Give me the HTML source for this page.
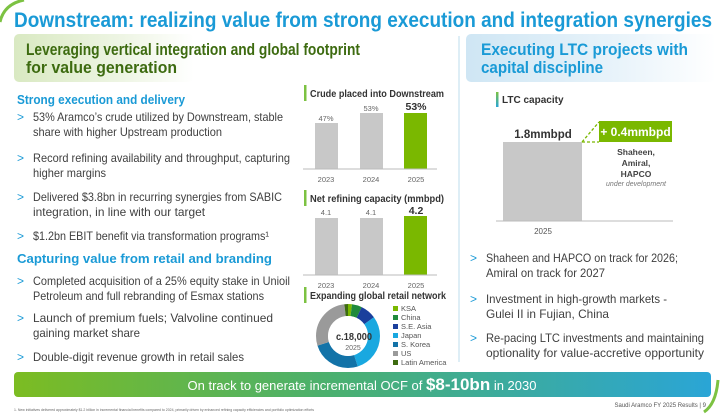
<!DOCTYPE html>
<html><head><meta charset="utf-8"><style>
html,body{margin:0;padding:0;background:#fff;}
svg{display:block;font-family:"Liberation Sans",sans-serif;}
</style></head><body>
<svg width="720" height="416" viewBox="0 0 720 416" xmlns="http://www.w3.org/2000/svg">
<defs>
<linearGradient id="gh" x1="0" x2="1"><stop offset="0" stop-color="#d9e9c2"/><stop offset="0.6" stop-color="#eef5e4"/><stop offset="1" stop-color="#fff"/></linearGradient>
<linearGradient id="bh" x1="0" x2="1"><stop offset="0" stop-color="#cfe6f4"/><stop offset="0.6" stop-color="#e8f3fa"/><stop offset="1" stop-color="#fff"/></linearGradient>
<linearGradient id="ban" x1="0" x2="1"><stop offset="0" stop-color="#7cbc22"/><stop offset="0.45" stop-color="#4bb06e"/><stop offset="1" stop-color="#2aa5d6"/></linearGradient>
<linearGradient id="hb" x1="0" x2="0" y1="0" y2="1"><stop offset="0" stop-color="#7cc242"/><stop offset="1" stop-color="#2aa5d6"/></linearGradient>
</defs>
<path d="M0,22 Q4,4 24,0" fill="none" stroke="#7cc242" stroke-width="3"/>
<path d="M704,412 Q716,404 718,380" fill="none" stroke="#7cc242" stroke-width="3"/>
<text x="14" y="27" font-size="21" font-weight="bold" fill="#1a9ad6" textLength="698" lengthAdjust="spacingAndGlyphs">Downstream: realizing value from strong execution and integration synergies</text>
<rect x="14" y="34" width="180" height="48" rx="5" fill="url(#gh)"/>
<text x="26" y="55" font-size="17" font-weight="bold" fill="#3d6b10" textLength="334" lengthAdjust="spacingAndGlyphs">Leveraging vertical integration and global footprint</text>
<text x="26" y="73" font-size="17" font-weight="bold" fill="#3d6b10" textLength="151" lengthAdjust="spacingAndGlyphs">for value generation</text>
<rect x="466" y="34" width="250" height="48" rx="5" fill="url(#bh)"/>
<text x="481" y="55" font-size="17" font-weight="bold" fill="#1a9ad6" textLength="207" lengthAdjust="spacingAndGlyphs">Executing LTC projects with</text>
<text x="481" y="73" font-size="17" font-weight="bold" fill="#1a9ad6" textLength="122" lengthAdjust="spacingAndGlyphs">capital discipline</text>
<line x1="459" y1="36" x2="459" y2="362" stroke="#bcdcee" stroke-width="1"/>
<g font-size="12" fill="#404040">
<text x="17" y="104" font-size="13" font-weight="bold" fill="#1a9ad6" textLength="168" lengthAdjust="spacingAndGlyphs">Strong execution and delivery</text>
<g fill="#1a9ad6"><text x="17" y="121">&gt;</text><text x="17" y="162">&gt;</text><text x="17" y="201">&gt;</text><text x="17" y="240">&gt;</text><text x="17" y="285">&gt;</text><text x="17" y="322">&gt;</text><text x="17" y="361">&gt;</text></g>
<text x="33" y="121" textLength="250" lengthAdjust="spacingAndGlyphs">53% Aramco’s crude utilized by Downstream, stable</text>
<text x="33" y="136" textLength="189" lengthAdjust="spacingAndGlyphs">share with higher Upstream production</text>
<text x="33" y="162" textLength="257" lengthAdjust="spacingAndGlyphs">Record refining availability and throughput, capturing</text>
<text x="33" y="177" textLength="73" lengthAdjust="spacingAndGlyphs">higher margins</text>
<text x="33" y="201" textLength="249" lengthAdjust="spacingAndGlyphs">Delivered $3.8bn in recurring synergies from SABIC</text>
<text x="33" y="216" textLength="172" lengthAdjust="spacingAndGlyphs">integration, in line with our target</text>
<text x="33" y="240" textLength="236" lengthAdjust="spacingAndGlyphs">$1.2bn EBIT benefit via transformation programs¹</text>
<text x="17" y="263" font-size="13" font-weight="bold" fill="#1a9ad6" textLength="255" lengthAdjust="spacingAndGlyphs">Capturing value from retail and branding</text>
<text x="33" y="285" textLength="257" lengthAdjust="spacingAndGlyphs">Completed acquisition of a 25% equity stake in Unioil</text>
<text x="33" y="300" textLength="231" lengthAdjust="spacingAndGlyphs">Petroleum and full rebranding of Esmax stations</text>
<text x="33" y="322" textLength="240" lengthAdjust="spacingAndGlyphs">Launch of premium fuels; Valvoline continued</text>
<text x="33" y="337" textLength="107" lengthAdjust="spacingAndGlyphs">gaining market share</text>
<text x="33" y="361" textLength="211" lengthAdjust="spacingAndGlyphs">Double-digit revenue growth in retail sales</text>
</g>
<rect x="304" y="85" width="2.5" height="16" fill="#7cc242"/>
<text x="310" y="97" font-size="10" font-weight="bold" fill="#333" textLength="134" lengthAdjust="spacingAndGlyphs">Crude placed into Downstream</text>
<rect x="315" y="123" width="23" height="46" fill="#c8c8c8"/>
<rect x="360" y="113" width="23" height="56" fill="#c8c8c8"/>
<rect x="404" y="113" width="23" height="56" fill="#7ab800"/>
<line x1="303" y1="169" x2="437" y2="169" stroke="#bbb"/>
<g font-size="7.5" fill="#666" text-anchor="middle">
<text x="326" y="121">47%</text><text x="371" y="111">53%</text>
<text x="326" y="182">2023</text><text x="371" y="182">2024</text><text x="416" y="182">2025</text>
<text x="326" y="288">2023</text><text x="371" y="288">2024</text><text x="416" y="288">2025</text>
</g>
<text x="416" y="110" font-size="10.5" font-weight="bold" fill="#333" text-anchor="middle">53%</text>
<rect x="304" y="190" width="2.5" height="16" fill="#7cc242"/>
<text x="310" y="202" font-size="10" font-weight="bold" fill="#333" textLength="134" lengthAdjust="spacingAndGlyphs">Net refining capacity (mmbpd)</text>
<rect x="315" y="218" width="23" height="57" fill="#c8c8c8"/>
<rect x="360" y="218" width="23" height="57" fill="#c8c8c8"/>
<rect x="404" y="216" width="23" height="59" fill="#7ab800"/>
<line x1="303" y1="275" x2="437" y2="275" stroke="#bbb"/>
<text x="416" y="214" font-size="10.5" font-weight="bold" fill="#333" text-anchor="middle">4.2</text>
<g font-size="7.5" fill="#666" text-anchor="middle"><text x="326" y="215">4.1</text><text x="371" y="215">4.1</text></g>
<rect x="304" y="287" width="2.5" height="16" fill="#7cc242"/>
<text x="310" y="299" font-size="10" font-weight="bold" fill="#333" textLength="136" lengthAdjust="spacingAndGlyphs">Expanding global retail network</text>
<g transform="translate(348,336) rotate(-90)" fill="none" stroke-width="12">
<circle r="26" stroke="#7ab800" stroke-dasharray="3.3 160.1" stroke-dashoffset="0"/>
<circle r="26" stroke="#1f8a3c" stroke-dasharray="8.2 155.2" stroke-dashoffset="-3.3"/>
<circle r="26" stroke="#1a3f9c" stroke-dasharray="13 150.4" stroke-dashoffset="-11.5"/>
<circle r="26" stroke="#19a8e0" stroke-dasharray="49 114.4" stroke-dashoffset="-24.5"/>
<circle r="26" stroke="#1373a8" stroke-dasharray="40.9 122.5" stroke-dashoffset="-73.5"/>
<circle r="26" stroke="#9a9a9a" stroke-dasharray="45.7 117.7" stroke-dashoffset="-114.4"/>
<circle r="26" stroke="#3d6b10" stroke-dasharray="3.3 160.1" stroke-dashoffset="-160.1"/>
</g>
<circle cx="348" cy="336" r="20" fill="#fff"/>
<text x="354" y="340" font-size="10.5" font-weight="bold" fill="#333" text-anchor="middle" textLength="36" lengthAdjust="spacingAndGlyphs">c.18,000</text>
<text x="353" y="350" font-size="7" fill="#666" text-anchor="middle">2025</text>
<g font-size="7.5" fill="#555">
<rect x="393" y="306" width="5" height="5" fill="#7ab800"/><text x="401" y="311">KSA</text>
<rect x="393" y="315" width="5" height="5" fill="#1f8a3c"/><text x="401" y="320">China</text>
<rect x="393" y="324" width="5" height="5" fill="#1a3f9c"/><text x="401" y="329">S.E. Asia</text>
<rect x="393" y="333" width="5" height="5" fill="#19a8e0"/><text x="401" y="338">Japan</text>
<rect x="393" y="342" width="5" height="5" fill="#1373a8"/><text x="401" y="347">S. Korea</text>
<rect x="393" y="351" width="5" height="5" fill="#9a9a9a"/><text x="401" y="356">US</text>
<rect x="393" y="360" width="5" height="5" fill="#3d6b10"/><text x="401" y="365">Latin America</text>
</g>
<rect x="496" y="92" width="2.5" height="15" fill="url(#hb)"/>
<text x="502" y="103" font-size="10" font-weight="bold" fill="#333">LTC capacity</text>
<rect x="503" y="142" width="79" height="79" fill="#c8c8c8"/>
<line x1="496" y1="221" x2="673" y2="221" stroke="#bbb"/>
<text x="543" y="138" font-size="11.5" font-weight="bold" fill="#333" text-anchor="middle">1.8mmbpd</text>
<rect x="599" y="121" width="73" height="21" fill="#7ab800"/>
<text x="635.5" y="136" font-size="12" font-weight="bold" fill="#fff" text-anchor="middle">+ 0.4mmbpd</text>
<path d="M582,142 L599,122 M582,142 L599,142" stroke="#7ab800" stroke-width="1.3" stroke-dasharray="3 2" fill="none"/>
<g font-size="8.5" font-weight="bold" fill="#444" text-anchor="middle">
<text x="636" y="155">Shaheen,</text><text x="636" y="166">Amiral,</text><text x="636" y="177">HAPCO</text>
</g>
<text x="636" y="186" font-size="7" font-style="italic" fill="#777" text-anchor="middle">under development</text>
<text x="543" y="234" font-size="8" fill="#555" text-anchor="middle">2025</text>
<g font-size="12" fill="#404040">
<g fill="#1a9ad6"><text x="470" y="262">&gt;</text><text x="470" y="303">&gt;</text><text x="470" y="342">&gt;</text></g>
<text x="486" y="262" textLength="192" lengthAdjust="spacingAndGlyphs">Shaheen and HAPCO on track for 2026;</text>
<text x="486" y="277" textLength="119" lengthAdjust="spacingAndGlyphs">Amiral on track for 2027</text>
<text x="486" y="303" textLength="181" lengthAdjust="spacingAndGlyphs">Investment in high-growth markets -</text>
<text x="486" y="318" textLength="123" lengthAdjust="spacingAndGlyphs">Gulei II in Fujian, China</text>
<text x="486" y="342" textLength="218" lengthAdjust="spacingAndGlyphs">Re-pacing LTC investments and maintaining</text>
<text x="486" y="357" textLength="218" lengthAdjust="spacingAndGlyphs">optionality for value-accretive opportunity</text>
</g>
<rect x="14" y="372" width="697" height="25" rx="4" fill="url(#ban)"/>
<text x="362" y="390" fill="#fff" text-anchor="middle" font-size="13"><tspan>On track to generate incremental OCF of </tspan><tspan font-size="17" font-weight="bold">$8-10bn</tspan><tspan> in 2030</tspan></text>
<text x="14" y="411" font-size="4" fill="#666" textLength="300" lengthAdjust="spacingAndGlyphs">1.  New initiatives delivered approximately $1.2 billion in incremental financial benefits compared to 2024, primarily driven by enhanced refining capacity efficiencies and portfolio optimization efforts</text>
<text x="706" y="407" font-size="6" fill="#555" text-anchor="end">Saudi Aramco FY 2025 Results  |  9</text>
</svg>
</body></html>
